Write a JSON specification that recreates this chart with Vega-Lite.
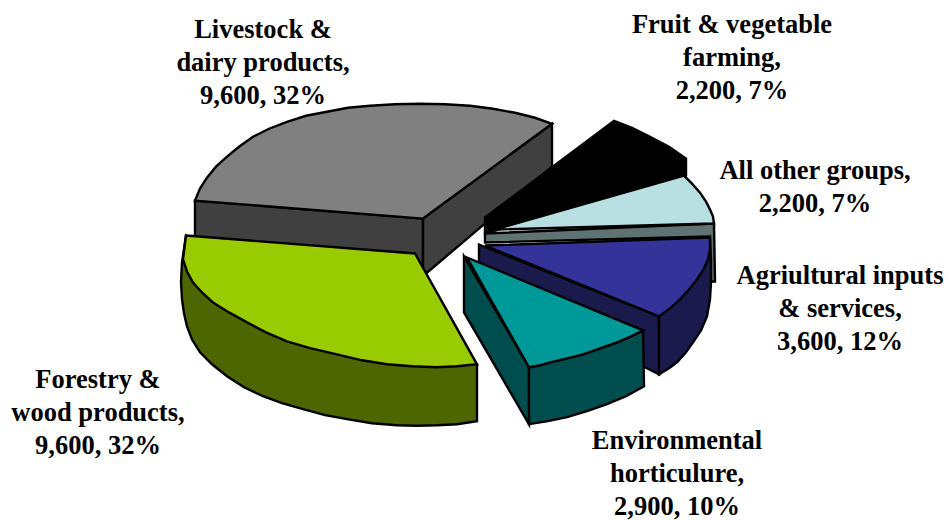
{"$schema":"https://vega.github.io/schema/vega-lite/v6.json","width":946,"height":521,"autosize":{"type":"fit","contains":"padding"},"padding":0,"background":"white","view":{"stroke":null},
"config":{"axis":{"disable":true},"legend":{"disable":true}},
"layer":[
{"data":{"values":[
{"part":"Grey side left","order":1,"x":195,"y":201},{"part":"Grey side left","order":2,"x":423,"y":219},{"part":"Grey side left","order":3,"x":423,"y":272},{"part":"Grey side left","order":4,"x":195,"y":256},
{"part":"Grey side right","order":1,"x":423,"y":219},{"part":"Grey side right","order":2,"x":552,"y":124},{"part":"Grey side right","order":3,"x":552,"y":167},{"part":"Grey side right","order":4,"x":426,"y":274},{"part":"Grey side right","order":5,"x":423,"y":274},
{"part":"Grey top","order":1,"x":195,"y":201},{"part":"Grey top","order":2,"x":200,"y":189},{"part":"Grey top","order":3,"x":207,"y":178},{"part":"Grey top","order":4,"x":216,"y":167},{"part":"Grey top","order":5,"x":227,"y":157},{"part":"Grey top","order":6,"x":239,"y":147},{"part":"Grey top","order":7,"x":253,"y":137},{"part":"Grey top","order":8,"x":269,"y":129},{"part":"Grey top","order":9,"x":287,"y":122},{"part":"Grey top","order":10,"x":306,"y":116},{"part":"Grey top","order":11,"x":327,"y":112},{"part":"Grey top","order":12,"x":348,"y":108},{"part":"Grey top","order":13,"x":370,"y":106},{"part":"Grey top","order":14,"x":395,"y":104.5},{"part":"Grey top","order":15,"x":420,"y":104},{"part":"Grey top","order":16,"x":445,"y":104.5},{"part":"Grey top","order":17,"x":470,"y":106},{"part":"Grey top","order":18,"x":493,"y":109},{"part":"Grey top","order":19,"x":515,"y":113},{"part":"Grey top","order":20,"x":535,"y":118},{"part":"Grey top","order":21,"x":552,"y":124},{"part":"Grey top","order":22,"x":423,"y":219},
{"part":"Black","order":1,"x":485,"y":218},{"part":"Black","order":2,"x":614,"y":121},{"part":"Black","order":3,"x":632,"y":128},{"part":"Black","order":4,"x":650,"y":137},{"part":"Black","order":5,"x":669,"y":147},{"part":"Black","order":6,"x":686,"y":159},{"part":"Black","order":7,"x":686,"y":176},{"part":"Black","order":8,"x":485,"y":234},
{"part":"Pale side","order":1,"x":485,"y":234},{"part":"Pale side","order":2,"x":714,"y":224},{"part":"Pale side","order":3,"x":715,"y":282},{"part":"Pale side","order":4,"x":708,"y":282},{"part":"Pale side","order":5,"x":708,"y":237},{"part":"Pale side","order":6,"x":485,"y":243},
{"part":"Pale top","order":1,"x":495,"y":230},{"part":"Pale top","order":2,"x":684,"y":176},{"part":"Pale top","order":3,"x":692,"y":184},{"part":"Pale top","order":4,"x":700,"y":193},{"part":"Pale top","order":5,"x":706,"y":202},{"part":"Pale top","order":6,"x":710,"y":210},{"part":"Pale top","order":7,"x":713,"y":217},{"part":"Pale top","order":8,"x":714,"y":224},
{"part":"Blue strip","order":1,"x":479,"y":245},{"part":"Blue strip","order":2,"x":659,"y":317},{"part":"Blue strip","order":3,"x":659,"y":375},{"part":"Blue strip","order":4,"x":643,"y":367},{"part":"Blue strip","order":5,"x":643,"y":336},{"part":"Blue strip","order":6,"x":479,"y":264},
{"part":"Blue side","order":1,"x":710,"y":238},{"part":"Blue side","order":2,"x":711,"y":260},{"part":"Blue side","order":3,"x":711,"y":283},{"part":"Blue side","order":4,"x":710,"y":300},{"part":"Blue side","order":5,"x":707,"y":317},{"part":"Blue side","order":6,"x":701,"y":331},{"part":"Blue side","order":7,"x":693,"y":343},{"part":"Blue side","order":8,"x":686,"y":353},{"part":"Blue side","order":9,"x":677,"y":363},{"part":"Blue side","order":10,"x":669,"y":369},{"part":"Blue side","order":11,"x":659,"y":375},{"part":"Blue side","order":12,"x":659,"y":317},
{"part":"Blue top","order":1,"x":485,"y":246},{"part":"Blue top","order":2,"x":710,"y":238},{"part":"Blue top","order":3,"x":710,"y":250},{"part":"Blue top","order":4,"x":708,"y":260},{"part":"Blue top","order":5,"x":703,"y":271},{"part":"Blue top","order":6,"x":697,"y":280},{"part":"Blue top","order":7,"x":689,"y":290},{"part":"Blue top","order":8,"x":680,"y":300},{"part":"Blue top","order":9,"x":670,"y":309},{"part":"Blue top","order":10,"x":659,"y":317},
{"part":"Teal strip","order":1,"x":464,"y":257},{"part":"Teal strip","order":2,"x":464,"y":313},{"part":"Teal strip","order":3,"x":529,"y":425},{"part":"Teal strip","order":4,"x":529,"y":368},
{"part":"Teal side","order":1,"x":529,"y":368},{"part":"Teal side","order":2,"x":540,"y":366},{"part":"Teal side","order":3,"x":550,"y":363},{"part":"Teal side","order":4,"x":567,"y":359},{"part":"Teal side","order":5,"x":583,"y":355},{"part":"Teal side","order":6,"x":600,"y":349},{"part":"Teal side","order":7,"x":617,"y":343},{"part":"Teal side","order":8,"x":631,"y":337},{"part":"Teal side","order":9,"x":643,"y":331},{"part":"Teal side","order":10,"x":644,"y":387},{"part":"Teal side","order":11,"x":626,"y":397},{"part":"Teal side","order":12,"x":607,"y":405},{"part":"Teal side","order":13,"x":587,"y":412},{"part":"Teal side","order":14,"x":567,"y":418},{"part":"Teal side","order":15,"x":548,"y":422},{"part":"Teal side","order":16,"x":529,"y":425},
{"part":"Teal top","order":1,"x":467,"y":258},{"part":"Teal top","order":2,"x":643,"y":331},{"part":"Teal top","order":3,"x":631,"y":337},{"part":"Teal top","order":4,"x":617,"y":343},{"part":"Teal top","order":5,"x":600,"y":349},{"part":"Teal top","order":6,"x":583,"y":355},{"part":"Teal top","order":7,"x":567,"y":359},{"part":"Teal top","order":8,"x":550,"y":363},{"part":"Teal top","order":9,"x":540,"y":366},{"part":"Teal top","order":10,"x":529,"y":368},
{"part":"Lime side","order":1,"x":186,"y":236},{"part":"Lime side","order":2,"x":182,"y":263},{"part":"Lime side","order":3,"x":181,"y":282},{"part":"Lime side","order":4,"x":182,"y":300},{"part":"Lime side","order":5,"x":184,"y":314},{"part":"Lime side","order":6,"x":187,"y":327},{"part":"Lime side","order":7,"x":192,"y":340},{"part":"Lime side","order":8,"x":200,"y":353},{"part":"Lime side","order":9,"x":212,"y":365},{"part":"Lime side","order":10,"x":227,"y":377},{"part":"Lime side","order":11,"x":244,"y":388},{"part":"Lime side","order":12,"x":263,"y":397},{"part":"Lime side","order":13,"x":282,"y":404},{"part":"Lime side","order":14,"x":303,"y":410},{"part":"Lime side","order":15,"x":325,"y":416},{"part":"Lime side","order":16,"x":347,"y":420},{"part":"Lime side","order":17,"x":372,"y":424},{"part":"Lime side","order":18,"x":397,"y":426},{"part":"Lime side","order":19,"x":417,"y":426.5},{"part":"Lime side","order":20,"x":437,"y":426},{"part":"Lime side","order":21,"x":457,"y":425},{"part":"Lime side","order":22,"x":477,"y":422},{"part":"Lime side","order":23,"x":477,"y":365},{"part":"Lime side","order":24,"x":300,"y":300},
{"part":"Lime top","order":1,"x":186,"y":236},{"part":"Lime top","order":2,"x":415,"y":254},{"part":"Lime top","order":3,"x":477,"y":365},{"part":"Lime top","order":4,"x":457,"y":367},{"part":"Lime top","order":5,"x":437,"y":368},{"part":"Lime top","order":6,"x":412,"y":367},{"part":"Lime top","order":7,"x":387,"y":365},{"part":"Lime top","order":8,"x":362,"y":361},{"part":"Lime top","order":9,"x":337,"y":355},{"part":"Lime top","order":10,"x":311,"y":349},{"part":"Lime top","order":11,"x":287,"y":342},{"part":"Lime top","order":12,"x":266,"y":333},{"part":"Lime top","order":13,"x":247,"y":323},{"part":"Lime top","order":14,"x":229,"y":313},{"part":"Lime top","order":15,"x":213,"y":303},{"part":"Lime top","order":16,"x":202,"y":293},{"part":"Lime top","order":17,"x":193,"y":283},{"part":"Lime top","order":18,"x":187,"y":272},{"part":"Lime top","order":19,"x":183,"y":260}
]},
"mark":{"type":"line","interpolate":"linear-closed","stroke":"#000000","strokeWidth":2.4,"strokeJoin":"miter","clip":true},
"encoding":{
"x":{"field":"x","type":"quantitative","scale":{"domain":[0,946],"nice":false,"zero":false}},
"y":{"field":"y","type":"quantitative","scale":{"domain":[521,0],"nice":false,"zero":false}},
"order":{"field":"order","type":"ordinal"},
"detail":{"field":"part"},
"fill":{"field":"part","type":"nominal","legend":null,"scale":{"domain":["Grey side left","Grey side right","Grey top","Black","Pale side","Pale top","Blue strip","Blue side","Blue top","Teal strip","Teal side","Teal top","Lime side","Lime top"],"range":["#404040","#404040","#808080","#000000","#5f7373","#b8e0e2","#1a1a4d","#1a1a4d","#333399","#004d4d","#004d4d","#009999","#4d6600","#99cc00"]}}
}},
{"data":{"values":[
{"group":"Livestock & dairy products","value":9600,"share":32,"label":"Livestock &\ndairy products,\n9,600, 32%","x":263,"y":30},
{"group":"Fruit & vegetable farming","value":2200,"share":7,"label":"Fruit & vegetable\nfarming,\n2,200, 7%","x":732,"y":25},
{"group":"All other groups","value":2200,"share":7,"label":"All other groups,\n2,200, 7%","x":815,"y":171},
{"group":"Agriultural inputs & services","value":3600,"share":12,"label":"Agriultural inputs\n& services,\n3,600, 12%","x":840,"y":277},
{"group":"Environmental horticulure","value":2900,"share":10,"label":"Environmental\nhorticulure,\n2,900, 10%","x":677,"y":442},
{"group":"Forestry & wood products","value":9600,"share":32,"label":"Forestry &\nwood products,\n9,600, 32%","x":98,"y":381}
]},
"mark":{"type":"text","font":"Liberation Serif","fontWeight":"bold","fontSize":26.5,"lineHeight":33,"lineBreak":"\n","align":"center","baseline":"middle","color":"#000000"},
"encoding":{
"x":{"field":"x","type":"quantitative"},
"y":{"field":"y","type":"quantitative"},
"text":{"field":"label"}
}}
]}
